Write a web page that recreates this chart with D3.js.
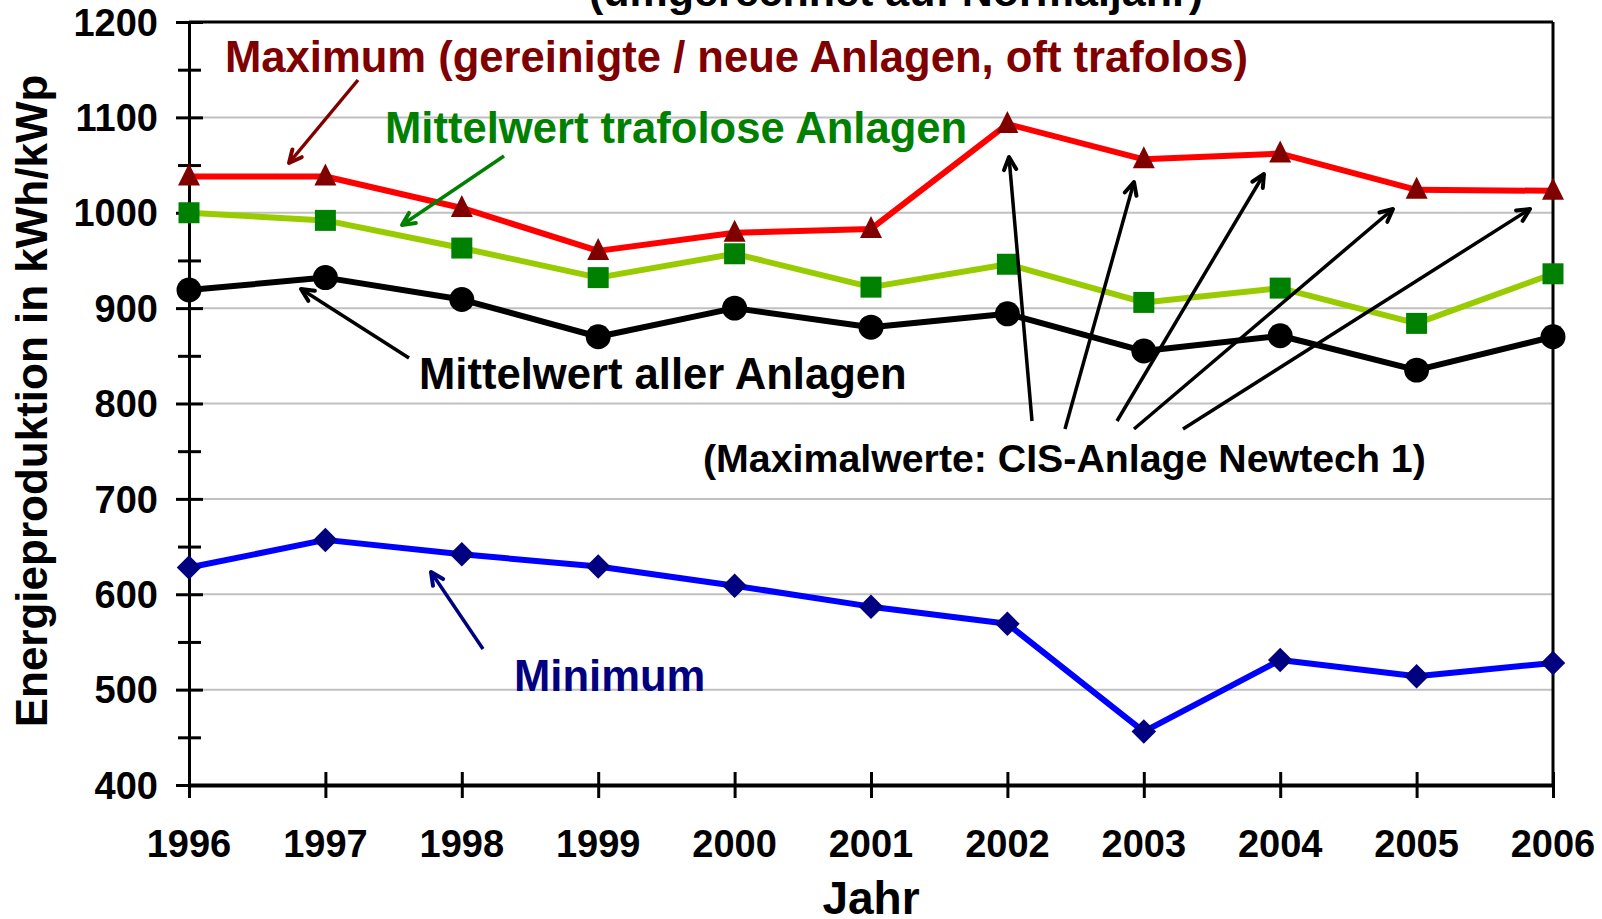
<!DOCTYPE html>
<html lang="de">
<head>
<meta charset="utf-8">
<title>Energieproduktion</title>
<script src="https://cdn.jsdelivr.net/npm/d3@7"></script>
<style>
  body { margin: 0; background: #fff; }
  svg text { font-family: "Liberation Sans", Arial, sans-serif; font-weight: bold; }
</style>
</head>
<body>
<script>
// data
var years = [1996, 1997, 1998, 1999, 2000, 2001, 2002, 2003, 2004, 2005, 2006];
var maximum   = [1038, 1038, 1005, 960, 979, 983, 1093, 1056, 1062, 1024, 1023];
var mittelTrafolos = [1000, 992, 963, 932, 957, 922, 946, 906, 921, 884, 936];
var mittelAlle = [919, 932, 909, 870, 900, 880, 894, 855, 871, 835, 870];
var minimum   = [628, 657, 642, 629, 609, 587, 569, 456, 531, 514, 528];
var yTicks = [400, 500, 600, 700, 800, 900, 1000, 1100, 1200];

var W = 1602, H = 919;
var plotL = 189, plotR = 1553, plotT = 22, plotB = 785;

var svg = d3.select("body").append("svg")
    .attr("width", W)
    .attr("height", H);

var x = d3.scaleLinear().domain([1996, 2006]).range([plotL, plotR]);
var y = d3.scaleLinear().domain([400, 1200]).range([plotB, plotT]);

// grid lines
svg.append("g")
  .selectAll("line")
  .data(yTicks.filter(function(d) { return d > 400 && d < 1200; }))
  .enter().append("line")
  .attr("x1", plotL).attr("x2", plotR)
  .attr("y1", function(d) { return y(d); })
  .attr("y2", function(d) { return y(d); })
  .attr("stroke", "#c0c0c0")
  .attr("stroke-width", 2);

// top and right frame
svg.append("line").attr("x1", plotL).attr("x2", plotR).attr("y1", y(1200)).attr("y2", y(1200))
  .attr("stroke", "#000").attr("stroke-width", 3);
svg.append("line").attr("x1", plotR).attr("x2", plotR).attr("y1", plotT).attr("y2", plotB)
  .attr("stroke", "#000").attr("stroke-width", 3);

// y axis (ticks cross the axis)
var yAxis = d3.axisLeft(y).tickValues(d3.range(400, 1201, 50))
    .tickSize(0).tickFormat("");
var gY = svg.append("g").attr("transform", "translate(" + plotL + ",0)").call(yAxis);
gY.select(".domain").attr("stroke-width", 3);
gY.selectAll(".tick line")
  .attr("x1", function(d) { return d % 100 === 0 ? -13 : -11; })
  .attr("x2", function(d) { return d % 100 === 0 ? 14 : 12; })
  .attr("stroke-width", 3);
gY.selectAll(".tick text").remove();

svg.append("g").selectAll("text")
  .data(yTicks)
  .enter().append("text")
  .attr("x", 158)
  .attr("y", function(d) { return y(d); })
  .attr("dy", "0.36em")
  .attr("text-anchor", "end")
  .attr("font-size", "38px")
  .text(function(d) { return d; });

// x axis
var xAxis = d3.axisBottom(x).tickValues(years).tickSize(0).tickFormat("");
var gX = svg.append("g").attr("transform", "translate(0," + plotB + ")").call(xAxis);
gX.select(".domain").attr("stroke-width", 4);
gX.selectAll(".tick line").attr("y1", -13).attr("y2", 13).attr("stroke-width", 3);

svg.append("g").selectAll("text")
  .data(years)
  .enter().append("text")
  .attr("x", function(d) { return x(d); })
  .attr("y", 857)
  .attr("text-anchor", "middle")
  .attr("font-size", "38px")
  .text(function(d) { return d; });

// axis titles
svg.append("text")
  .attr("x", 871).attr("y", 914)
  .attr("text-anchor", "middle")
  .attr("font-size", "46px")
  .text("Jahr");

svg.append("text")
  .attr("transform", "translate(47,401) rotate(-90)")
  .attr("text-anchor", "middle")
  .attr("font-size", "44px")
  .text("Energieproduktion in kWh/kWp");

// title (cut off at the top)
svg.append("text")
  .attr("x", 896).attr("y", 6)
  .attr("text-anchor", "middle")
  .attr("font-size", "43px")
  .text("(umgerechnet auf Normaljahr)");

// series
var line = d3.line()
    .x(function(d, i) { return x(years[i]); })
    .y(function(d) { return y(d); });

var triangle = "M0,-13L11,9L-11,9Z";

function drawSeries(vals, lineColor, markColor, shapePath, rot) {
  svg.append("path")
    .attr("d", line(vals))
    .attr("fill", "none")
    .attr("stroke", lineColor)
    .attr("stroke-width", 6)
    .attr("stroke-linejoin", "round");
  svg.append("g").selectAll("path")
    .data(vals)
    .enter().append("path")
    .attr("transform", function(d, i) {
      return "translate(" + x(years[i]) + "," + y(d) + ") rotate(" + rot + ")";
    })
    .attr("d", shapePath)
    .attr("fill", markColor);
}

drawSeries(minimum, "#0000ff", "#000080", d3.symbol().type(d3.symbolSquare).size(300)(), 45);
drawSeries(mittelAlle, "#000000", "#000000", d3.symbol().type(d3.symbolCircle).size(490)(), 0);
drawSeries(mittelTrafolos, "#99cc00", "#008000", d3.symbol().type(d3.symbolSquare).size(441)(), 0);
drawSeries(maximum, "#ff0000", "#800000", triangle, 0);

// annotations
var labels = [
  { t: "Maximum (gereinigte / neue Anlagen, oft trafolos)", x: 225, y: 72, c: "#800000", s: 43.6 },
  { t: "Mittelwert trafolose Anlagen", x: 385, y: 143, c: "#008000", s: 43.6 },
  { t: "Mittelwert aller Anlagen", x: 419, y: 389, c: "#000000", s: 43.6 },
  { t: "(Maximalwerte: CIS-Anlage Newtech 1)", x: 703, y: 472, c: "#000000", s: 39.3 },
  { t: "Minimum", x: 514, y: 691, c: "#000080", s: 43.6 }
];
svg.append("g").selectAll("text")
  .data(labels)
  .enter().append("text")
  .attr("x", function(d) { return d.x; })
  .attr("y", function(d) { return d.y; })
  .attr("fill", function(d) { return d.c; })
  .attr("font-size", function(d) { return d.s + "px"; })
  .text(function(d) { return d.t; });

// arrows
var arrows = [
  { x1: 358, y1: 80, x2: 289, y2: 163, c: "#800000" },
  { x1: 504, y1: 156, x2: 402, y2: 225, c: "#008000" },
  { x1: 409, y1: 358, x2: 301, y2: 289, c: "#000000" },
  { x1: 483, y1: 649, x2: 431, y2: 572, c: "#000080" },
  { x1: 1032, y1: 421, x2: 1009, y2: 157, c: "#000000" },
  { x1: 1065, y1: 429, x2: 1134, y2: 182, c: "#000000" },
  { x1: 1117, y1: 421, x2: 1264, y2: 174, c: "#000000" },
  { x1: 1134, y1: 429, x2: 1393, y2: 209, c: "#000000" },
  { x1: 1183, y1: 429, x2: 1530, y2: 209, c: "#000000" }
];
var ga = svg.append("g");
arrows.forEach(function(a) {
  ga.append("line")
    .attr("x1", a.x1).attr("y1", a.y1).attr("x2", a.x2).attr("y2", a.y2)
    .attr("stroke", a.c).attr("stroke-width", 3.5);
  var ang = Math.atan2(a.y2 - a.y1, a.x2 - a.x1);
  var len = 14, spread = 0.45;
  var p1 = [a.x2 - len * Math.cos(ang - spread), a.y2 - len * Math.sin(ang - spread)];
  var p2 = [a.x2 - len * Math.cos(ang + spread), a.y2 - len * Math.sin(ang + spread)];
  ga.append("path")
    .attr("d", "M" + p1 + "L" + a.x2 + "," + a.y2 + "L" + p2)
    .attr("fill", "none")
    .attr("stroke", a.c)
    .attr("stroke-width", 4)
    .attr("stroke-linecap", "round")
    .attr("stroke-linejoin", "round");
});
</script>
</body>
</html>
